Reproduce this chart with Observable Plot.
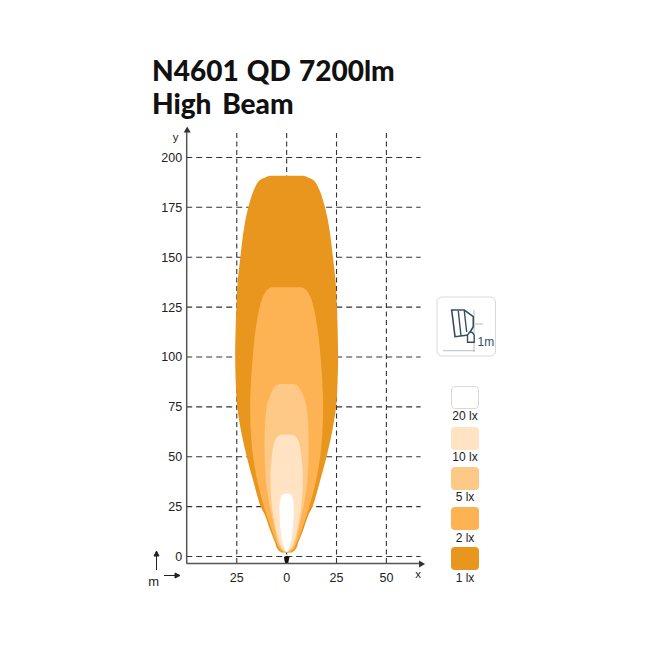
<!DOCTYPE html>
<html>
<head>
<meta charset="utf-8">
<script src="https://cdn.jsdelivr.net/npm/d3@7"></script>
<script src="https://cdn.jsdelivr.net/npm/@observablehq/plot@0.6"></script>
<style>
html,body{margin:0;padding:0;background:#fff;}
#wrap{position:relative;width:645px;height:645px;overflow:hidden;font-family:"Liberation Sans",Arial,sans-serif;}
.title{position:absolute;left:152px;font-family:"Lato","Liberation Sans",sans-serif;font-weight:900;font-size:28px;line-height:32px;color:#111;white-space:pre;}
#chart{position:absolute;left:0;top:0;}
#icon{position:absolute;left:0;top:0;pointer-events:none;}
</style>
</head>
<body>
<div id="wrap">
<div id="chart"></div>
<svg id="icon" width="645" height="645">
<rect x="437" y="297" width="58.5" height="59" rx="5" fill="#fff" stroke="#d9d9d9" stroke-width="1"/>
<path d="M474 310 V352 M475 324 H483 M443 350.7 H475" stroke="#9fb0b8" stroke-width="0.8" fill="none"/>
<g fill="none" stroke="#33505f" stroke-width="1.4">
<path d="M451.7 310 L464.3 310 L473.3 316.7 L473.3 326.7 L468.3 335 L455 336.7 Z" stroke-width="1.6"/>
<path d="M458.3 311 L461 336 M464.3 311 L466.7 332"/>
<path d="M467.5 342.3 L467.5 335 Q470.8 329 474.2 335 L474.2 342.3 Z" fill="#fff"/>
</g>
<text x="477.5" y="345.5" font-size="12" fill="#33505f" font-family="Liberation Sans">1m</text>
<g stroke="#222" stroke-width="1" fill="#222">
<path d="M156.5 570 V555" fill="none"/><path d="M154 556 L156.5 551 L159 556 Z"/>
<path d="M164 575.5 H175" fill="none"/><path d="M175 573 L180 575.5 L175 578 Z"/>
</g>
</svg>
<div class="title" style="top:54px;word-spacing:1.5px">N4601 QD 7200lm</div>
<div class="title" style="top:86.5px;word-spacing:4px">High Beam</div>
</div>
<script>
const xTicks = [-25, 0, 25, 50];
const yTicks = [0, 25, 50, 75, 100, 125, 150, 175, 200];

const lux1Y    = [190.8, 190, 188.5, 183.3, 175, 165, 150, 137, 125, 100, 85, 75, 62, 50, 37, 25, 21, 13, 7, 4.5, 3, 2];
const lux1Half = [8.5, 10.7, 13.7, 16.6, 19.2, 21.3, 23.2, 24.6, 25.2, 25.8, 25.4, 24.8, 22.7, 20, 16.5, 13, 11, 8.2, 5.8, 5, 4, 2.5];

const lux2Y    = [135, 134, 131, 125, 112, 100, 85, 75, 62, 50, 37, 25, 14, 7, 4.5, 3, 2];
const lux2Half = [7.5, 9.5, 11.5, 13.5, 15.8, 17, 18, 18.3, 17.9, 16.8, 14.5, 11.3, 7.7, 5.1, 4, 2.8, 1];

const lux5Y    = [86.5, 85.5, 83, 78, 75, 62, 50, 37, 25, 14, 7, 4, 2.3];
const lux5Half = [3.5, 5.5, 7.3, 9.2, 10, 11, 11, 10.3, 8.4, 6, 4.3, 2.8, 0.6];

const lux10Y    = [61, 60, 58, 54, 50, 40, 25, 14, 7, 4, 2.3];
const lux10Half = [3, 4.6, 5.9, 6.9, 7.4, 8.1, 7.3, 5.4, 3.7, 2.2, 0.4];

const lux20Y    = [31.5, 30.5, 28.5, 25, 16.5, 9.7, 7, 4, 2.5];
const lux20Half = [1.5, 2.5, 3.2, 3.6, 3.3, 2.6, 2.1, 1.1, 0.2];

const markerY = [0, -0.5, -3.5];
const markerHalf = [0.2, 1.4, 0.8];

const legendLabels = ["20 lx", "10 lx", "5 lx", "2 lx", "1 lx"];
const legendColors = ["#ffffff", "#ffe3c3", "#fec987", "#fdb354", "#e9961e"];

const contour = (ys, hs) => ys.map((y, i) => ({y, h: hs[i]}));
const layers = [
  [contour(lux1Y, lux1Half), legendColors[4]],
  [contour(lux2Y, lux2Half), legendColors[3]],
  [contour(lux5Y, lux5Half), legendColors[2]],
  [contour(lux10Y, lux10Half), legendColors[1]],
  [contour(lux20Y, lux20Half), legendColors[0]]
];

const axisColor = "#555";
const xLow = -50.1, xHigh = 67.4, yLow = -3.5, yHigh = 213.5;

const chart = Plot.plot({
  width: 645,
  height: 645,
  margin: 0,
  style: {background: "transparent", fontFamily: "Liberation Sans, Arial, sans-serif"},
  x: {domain: [xLow, xHigh], range: [186.2, 420.6], axis: null},
  y: {domain: [yLow, yHigh], range: [563, 130], axis: null},
  marks: [
    Plot.ruleX(xTicks, {y1: yLow, y2: yHigh - 1.5, stroke: "#333", strokeWidth: 1.1, strokeDasharray: "5,3.5"}),
    Plot.ruleY(yTicks, {x1: xLow, x2: xHigh, stroke: "#333", strokeWidth: 1.1, strokeDasharray: "6,4"}),
    ...layers.map(([d, c]) => Plot.areaX(d, {y: "y", x1: p => -p.h, x2: p => p.h, fill: c, curve: "catmull-rom", dx: 0.5, dy: 0.5})),
    Plot.areaX(contour(markerY, markerHalf), {y: "y", x1: p => -p.h, x2: p => p.h, fill: "#111", dx: 0.5}),
    Plot.ruleX([xLow], {y1: yLow, y2: yHigh - 1, stroke: axisColor, strokeWidth: 1.5}),
    Plot.ruleY([yLow], {x1: xLow, x2: xHigh, stroke: axisColor, strokeWidth: 1.5}),
    Plot.dot([{x: xLow, y: yHigh}], {x: "x", y: "y", symbol: "triangle", r: 2.6, fill: "#333", stroke: "none", dx: 0.5}),
    Plot.dot([{x: xHigh, y: yLow}], {x: "x", y: "y", symbol: "triangle", r: 2.6, rotate: 90, fill: "#333", stroke: "none", dy: 0.5}),
    Plot.text(yTicks, {x: xLow, y: d => d, text: d => String(d), dx: -4.5, dy: 0.5, textAnchor: "end", fontSize: 12.5, fill: "#222"}),
    Plot.text(xTicks, {x: d => d, y: yLow, text: d => String(Math.abs(d)), dy: 14.5, fontSize: 12.5, fill: "#222"}),
    Plot.text(["x"], {x: xHigh, y: yLow, dx: -3, dy: 10.5, fontSize: 11.5, fill: "#222"}),
    Plot.text(["y"], {x: xLow, y: yHigh, dx: -11, dy: 6.5, fontSize: 11.5, fill: "#222"}),
    Plot.text(["m"], {x: xLow, y: yLow, dx: -33, dy: 18, fontSize: 13, fill: "#222"})
  ]
});
document.getElementById("chart").appendChild(chart);

const wrap = document.getElementById("wrap");
const tops = [385.5, 426.5, 466.5, 507, 547];
legendLabels.forEach((label, i) => {
  const s = document.createElement("div");
  s.style.cssText = `position:absolute;left:451px;top:${tops[i]}px;width:28px;height:23px;border-radius:4px;box-sizing:border-box;background:${legendColors[i]};` + (i === 0 ? "border:1px solid #d9d9d9;" : "");
  wrap.appendChild(s);
  const t = document.createElement("div");
  t.textContent = label;
  t.style.cssText = `position:absolute;left:435px;width:60px;text-align:center;top:${tops[i] + 24.5}px;font-size:12px;line-height:13px;color:#222;`;
  wrap.appendChild(t);
});
</script>
</body>
</html>
